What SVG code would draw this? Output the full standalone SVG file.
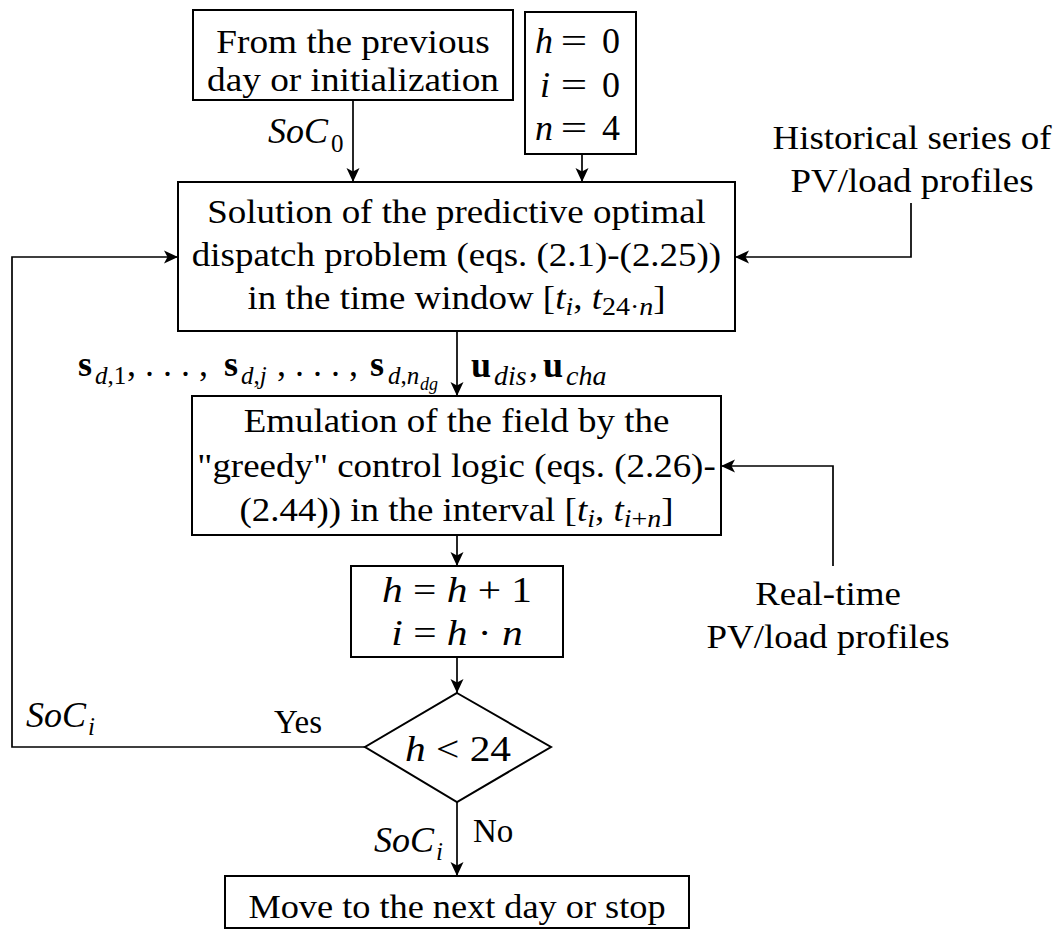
<svg xmlns="http://www.w3.org/2000/svg" width="1064" height="929" viewBox="0 0 1064 929">
  <style>
    .box { fill: #fff; stroke: #000; stroke-width: 2; }
    .wire { fill: none; stroke: #000; stroke-width: 1.7; }
    .t { font-family: "Liberation Serif", "Times New Roman", serif; font-size: 33px; fill: #000; }
    .m { font-family: "Liberation Serif", "Times New Roman", serif; font-size: 36px; fill: #000; }
    .it { font-style: italic; }
    .b { font-weight: bold; }
    .sb { font-size: 25px; }
    .sw { font-size: 28px; }
    .ssb { font-size: 18px; }
    .c { text-anchor: middle; }
  </style>
  <defs>
    <marker id="arrow" viewBox="0 0 14 14" refX="14" refY="7" markerWidth="14" markerHeight="14" markerUnits="userSpaceOnUse" orient="auto">
      <path d="M0,0.5 L14,7 L0,13.5 L3.5,7 Z" fill="#000"/>
    </marker>
  </defs>
  <rect width="1064" height="929" fill="#fff"/>

  <!-- connectors -->
  <g id="connectors">
    <path class="wire" d="M353,100 V182" marker-end="url(#arrow)"/>
    <path class="wire" d="M582,154 V182" marker-end="url(#arrow)"/>
    <path class="wire" d="M911,203 V257 H735" marker-end="url(#arrow)"/>
    <path class="wire" d="M457,331 V396" marker-end="url(#arrow)"/>
    <path class="wire" d="M833,566 V466 H721" marker-end="url(#arrow)"/>
    <path class="wire" d="M457,535 V566" marker-end="url(#arrow)"/>
    <path class="wire" d="M457,657 V693" marker-end="url(#arrow)"/>
    <path class="wire" d="M365,747 H12 V257 H178" marker-end="url(#arrow)"/>
    <path class="wire" d="M457,802 V876" marker-end="url(#arrow)"/>

    <!-- connector labels -->
    <text class="m it" x="268" y="143">SoC</text>
    <text class="m sb" x="331" y="152">0</text>

    <text class="m b" x="78" y="376">s</text>
    <text class="m sb" x="95" y="384"><tspan class="it">d</tspan>,1</text>
    <text class="m" x="127" y="376">, . . . ,</text>
    <text class="m b" x="224" y="376">s</text>
    <text class="m sb" x="241" y="384"><tspan class="it">d</tspan>,<tspan class="it">j</tspan></text>
    <text class="m" x="277" y="376">, . . . ,</text>
    <text class="m b" x="370" y="376">s</text>
    <text class="m sb" x="388" y="384"><tspan class="it">d</tspan>,<tspan class="it">n</tspan></text>
    <text class="m ssb it" x="420" y="390">dg</text>

    <text class="m b" x="471" y="377">u</text>
    <text class="m sw it" x="494" y="385">dis</text>
    <text class="m" x="529" y="377">,</text>
    <text class="m b" x="543" y="377">u</text>
    <text class="m sw it" x="566" y="385">cha</text>

    <text class="t" x="274" y="733">Yes</text>
    <text class="m it" x="26" y="727">SoC</text>
    <text class="m sb it" x="88" y="735">i</text>

    <text class="t" x="473" y="842">No</text>
    <text class="m it" x="374" y="852">SoC</text>
    <text class="m sb it" x="436" y="860">i</text>
  </g>

  <!-- start state -->
  <g id="node-start">
    <rect class="box" x="193" y="10" width="320" height="90"/>
    <g transform="translate(353 0) scale(1.13 1)">
      <text class="t c" x="0" y="53">From the previous</text>
      <text class="t c" x="0" y="91">day or initialization</text>
    </g>
  </g>

  <!-- initial counters -->
  <g id="node-init">
    <rect class="box" x="525" y="12" width="111" height="142"/>
    <text class="m it" x="553" y="53" text-anchor="end">h</text>
    <text class="m" x="574" y="53" text-anchor="middle" transform="translate(574 0) scale(1.3 1) translate(-574 0)">=</text>
    <text class="m" x="611" y="53" text-anchor="middle">0</text>
    <text class="m it" x="550" y="97" text-anchor="end">i</text>
    <text class="m" x="574" y="97" text-anchor="middle" transform="translate(574 0) scale(1.3 1) translate(-574 0)">=</text>
    <text class="m" x="611" y="97" text-anchor="middle">0</text>
    <text class="m it" x="553" y="140" text-anchor="end">n</text>
    <text class="m" x="574" y="140" text-anchor="middle" transform="translate(574 0) scale(1.3 1) translate(-574 0)">=</text>
    <text class="m" x="611" y="140" text-anchor="middle">4</text>
  </g>

  <!-- historical data source -->
  <g id="node-history">
    <g transform="translate(912 0) scale(1.12 1)">
      <text class="t c" x="0" y="149">Historical series of</text>
      <text class="t c" x="0" y="192">PV/load profiles</text>
    </g>
  </g>

  <!-- predictive optimisation -->
  <g id="node-optimal">
    <rect class="box" x="178" y="182" width="557" height="149"/>
    <g transform="translate(456.5 0) scale(1.12 1)">
      <text class="t c" x="0" y="223">Solution of the predictive optimal</text>
      <text class="t c" x="0" y="266">dispatch problem (eqs. (2.1)-(2.25))</text>
      <text class="t c" x="0" y="309">in the time window [<tspan class="it">t</tspan><tspan class="sb it" dy="6">i</tspan><tspan dy="-6">, </tspan><tspan class="it">t</tspan><tspan class="sb" dy="6">24·<tspan class="it">n</tspan></tspan><tspan dy="-6">]</tspan></text>
    </g>
  </g>

  <!-- field emulation -->
  <g id="node-emulation">
    <rect class="box" x="192" y="396" width="529" height="139"/>
    <g transform="translate(456.5 0) scale(1.12 1)">
      <text class="t c" x="0" y="432">Emulation of the field by the</text>
      <text class="t c" x="0" y="477">"greedy" control logic (eqs. (2.26)-</text>
      <text class="t c" x="0" y="521">(2.44)) in the interval [<tspan class="it">t</tspan><tspan class="sb it" dy="6">i</tspan><tspan dy="-6">, </tspan><tspan class="it">t</tspan><tspan class="sb" dy="6"><tspan class="it">i</tspan>+<tspan class="it">n</tspan></tspan><tspan dy="-6">]</tspan></text>
    </g>
  </g>

  <!-- real-time data source -->
  <g id="node-realtime">
    <g transform="translate(828 0) scale(1.12 1)">
      <text class="t c" x="0" y="605">Real-time</text>
      <text class="t c" x="0" y="648">PV/load profiles</text>
    </g>
  </g>

  <!-- counter update -->
  <g id="node-update">
    <rect class="box" x="351" y="566" width="212" height="91"/>
    <g transform="translate(457 0) scale(1.15 1)">
      <text class="m c" x="0" y="602"><tspan class="it">h</tspan> = <tspan class="it">h</tspan> + 1</text>
      <text class="m c" x="0" y="645"><tspan class="it">i</tspan> = <tspan class="it">h</tspan> · <tspan class="it">n</tspan></text>
    </g>
  </g>

  <!-- loop condition -->
  <g id="node-decision">
    <polygon class="box" points="457,693 551,747 457,802 365,747"/>
    <g transform="translate(458 0) scale(1.15 1)">
      <text class="m c" x="0" y="761"><tspan class="it">h</tspan> &lt; 24</text>
    </g>
  </g>

  <!-- end state -->
  <g id="node-end">
    <rect class="box" x="225" y="876" width="464" height="52"/>
    <g transform="translate(457 0) scale(1.1 1)">
      <text class="t c" x="0" y="918">Move to the next day or stop</text>
    </g>
  </g>
</svg>
